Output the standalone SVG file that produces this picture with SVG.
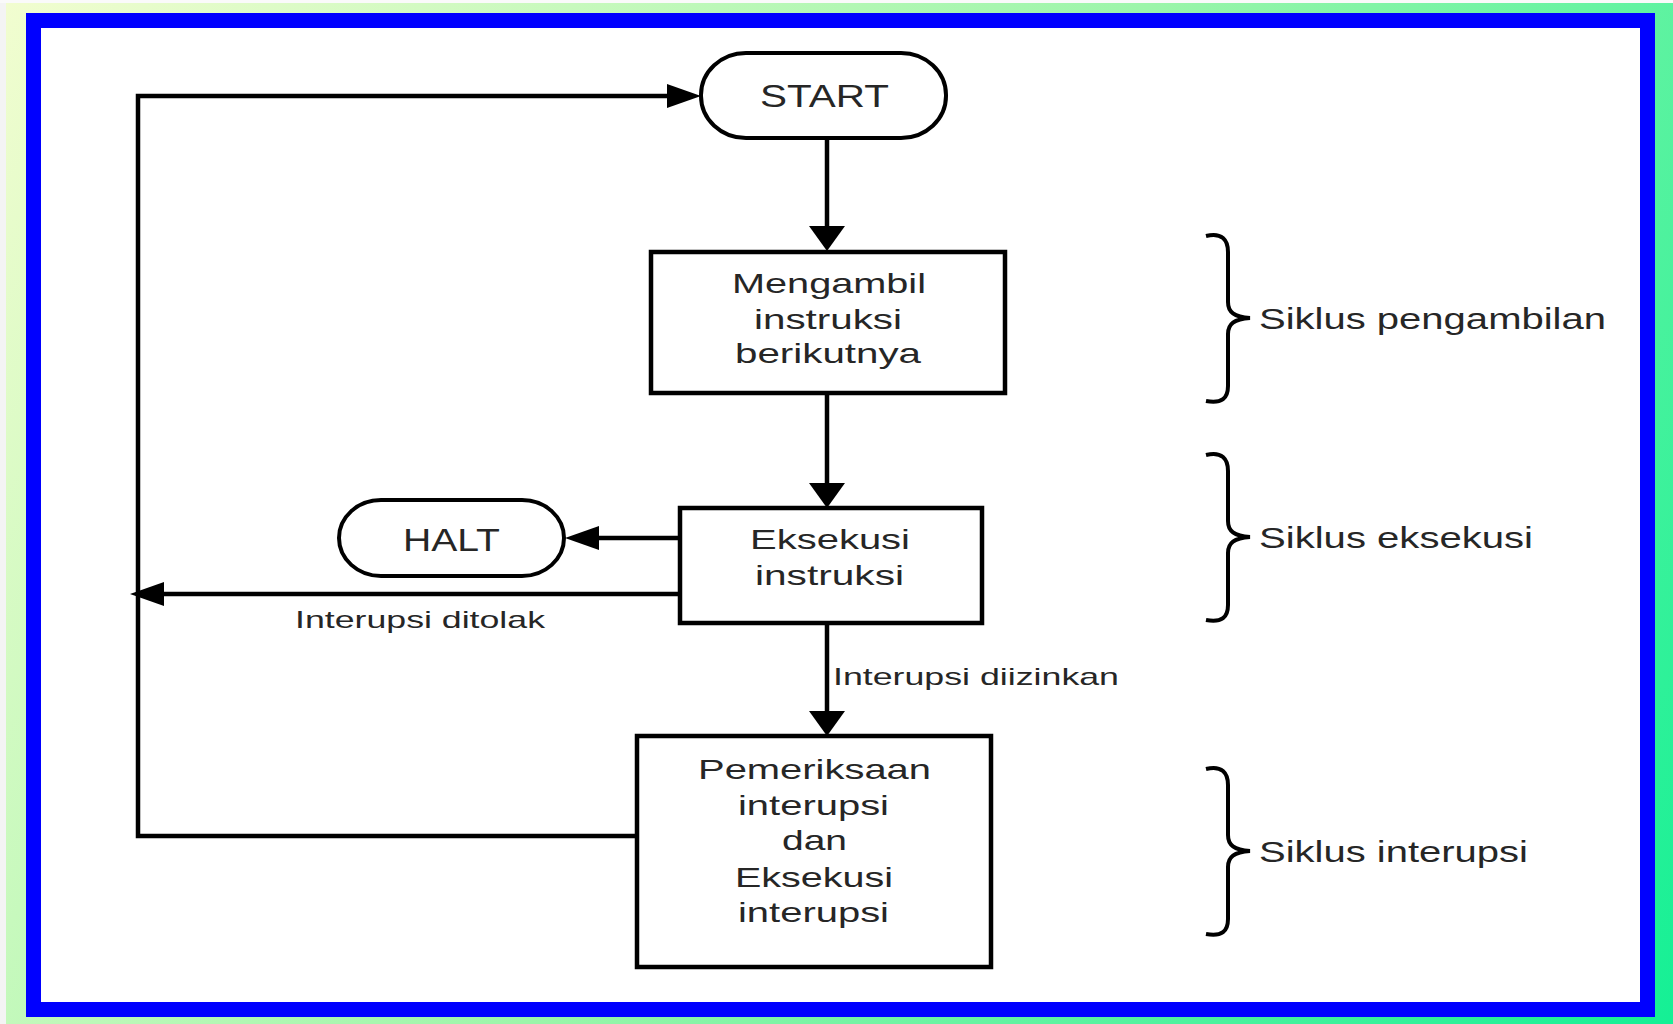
<svg xmlns="http://www.w3.org/2000/svg" width="1673" height="1024" viewBox="0 0 1673 1024">
  <defs>
    <linearGradient id="bg" gradientUnits="userSpaceOnUse" x1="0" y1="0" x2="1673" y2="1024">
      <stop offset="0" stop-color="#f2fdd0"/>
      <stop offset="0.5" stop-color="#9cf5aa"/>
      <stop offset="1" stop-color="#14f095"/>
    </linearGradient>
    <!-- arrowheads: vertical ones are short and wide, horizontal ones long and narrow -->
    <marker id="headV" markerUnits="userSpaceOnUse" viewBox="0 0 25 36" markerWidth="25" markerHeight="36" refX="0" refY="18" orient="auto">
      <path d="M0,0 L25,18 L0,36 Z" fill="#000"/>
    </marker>
    <marker id="headH" markerUnits="userSpaceOnUse" viewBox="0 0 34 24" markerWidth="34" markerHeight="24" refX="0" refY="12" orient="auto">
      <path d="M0,0 L34,12 L0,24 Z" fill="#000"/>
    </marker>
    <!-- curly brace, top at y=233, tip at y=318 -->
    <path id="brace" d="M1206,236 C1222,232 1228,240 1228,252 L1228,302 C1228,312 1234,317 1250,318 C1234,319 1228,324 1228,334 L1228,386 C1228,398 1222,404 1206,401"/>
  </defs>
  <style>
    .box { fill: #fff; stroke: #000; stroke-width: 4.5; }
    .term { fill: #fff; stroke: #000; stroke-width: 4; }
    .wire { fill: none; stroke: #000; stroke-width: 4.5; }
    .brace { fill: none; stroke: #000; stroke-width: 4; }
    text { font-family: "Liberation Sans", Arial, sans-serif; fill: #262626; }
    .node { font-size: 28px; text-anchor: middle; }
    .term-t { font-size: 31px; text-anchor: middle; }
    .lbl { font-size: 24px; }
    .cyc { font-size: 30px; }
  </style>

  <!-- backdrop and frame -->
  <rect x="0" y="0" width="1673" height="1024" fill="url(#bg)"/>
  <rect x="0" y="0" width="6" height="1024" fill="#f4f4f4"/>
  <rect x="0" y="0" width="1673" height="3" fill="#fafafa"/>
  <rect x="33.5" y="20.5" width="1614" height="989" fill="#fff" stroke="#0000ff" stroke-width="15"/>

  <!-- connectors -->
  <g id="connectors">
    <path class="wire" d="M827,138 V226" marker-end="url(#headV)"/>
    <path class="wire" d="M827,393 V483" marker-end="url(#headV)"/>
    <path class="wire" d="M680,538 H599" marker-end="url(#headH)"/>
    <path class="wire" d="M680,594 H164" marker-end="url(#headH)"/>
    <path class="wire" d="M827,623 V711" marker-end="url(#headV)"/>
    <path class="wire" d="M637,836 H138 V96 H667" marker-end="url(#headH)"/>
    <text class="lbl" x="295" y="628" textLength="250" lengthAdjust="spacingAndGlyphs">Interupsi ditolak</text>
    <text class="lbl" x="833" y="685" textLength="286" lengthAdjust="spacingAndGlyphs">Interupsi diizinkan</text>
  </g>

  <!-- nodes -->
  <g id="start">
    <rect class="term" x="701" y="53" width="245" height="85" rx="45" ry="42"/>
    <text class="term-t" x="824.5" y="107" textLength="129" lengthAdjust="spacingAndGlyphs">START</text>
  </g>

  <g id="fetch">
    <rect class="box" x="651" y="252" width="354" height="141"/>
    <text class="node" x="829" y="293" textLength="194" lengthAdjust="spacingAndGlyphs">Mengambil</text>
    <text class="node" x="828" y="329" textLength="148" lengthAdjust="spacingAndGlyphs">instruksi</text>
    <text class="node" x="828" y="363" textLength="186" lengthAdjust="spacingAndGlyphs">berikutnya</text>
  </g>

  <g id="execute">
    <rect class="box" x="680" y="508" width="302" height="115"/>
    <text class="node" x="830" y="549" textLength="160" lengthAdjust="spacingAndGlyphs">Eksekusi</text>
    <text class="node" x="829.5" y="585" textLength="149" lengthAdjust="spacingAndGlyphs">instruksi</text>
  </g>

  <g id="halt">
    <rect class="term" x="339" y="500" width="225" height="76" rx="42" ry="38"/>
    <text class="term-t" x="451.5" y="551" textLength="97" lengthAdjust="spacingAndGlyphs">HALT</text>
  </g>

  <g id="interrupt">
    <rect class="box" x="637" y="736" width="354" height="231"/>
    <text class="node" x="814.5" y="779" textLength="233" lengthAdjust="spacingAndGlyphs">Pemeriksaan</text>
    <text class="node" x="813.5" y="815" textLength="151" lengthAdjust="spacingAndGlyphs">interupsi</text>
    <text class="node" x="814.5" y="850" textLength="65" lengthAdjust="spacingAndGlyphs">dan</text>
    <text class="node" x="814" y="887" textLength="158" lengthAdjust="spacingAndGlyphs">Eksekusi</text>
    <text class="node" x="813.5" y="922" textLength="151" lengthAdjust="spacingAndGlyphs">interupsi</text>
  </g>

  <!-- cycle brackets -->
  <g id="cycle-fetch">
    <use href="#brace" class="brace"/>
    <text class="cyc" x="1259" y="329" textLength="347" lengthAdjust="spacingAndGlyphs">Siklus pengambilan</text>
  </g>
  <g id="cycle-execute">
    <use href="#brace" class="brace" transform="translate(0,219)"/>
    <text class="cyc" x="1259" y="548" textLength="274" lengthAdjust="spacingAndGlyphs">Siklus eksekusi</text>
  </g>
  <g id="cycle-interrupt">
    <use href="#brace" class="brace" transform="translate(0,533)"/>
    <text class="cyc" x="1259" y="862" textLength="269" lengthAdjust="spacingAndGlyphs">Siklus interupsi</text>
  </g>
</svg>
